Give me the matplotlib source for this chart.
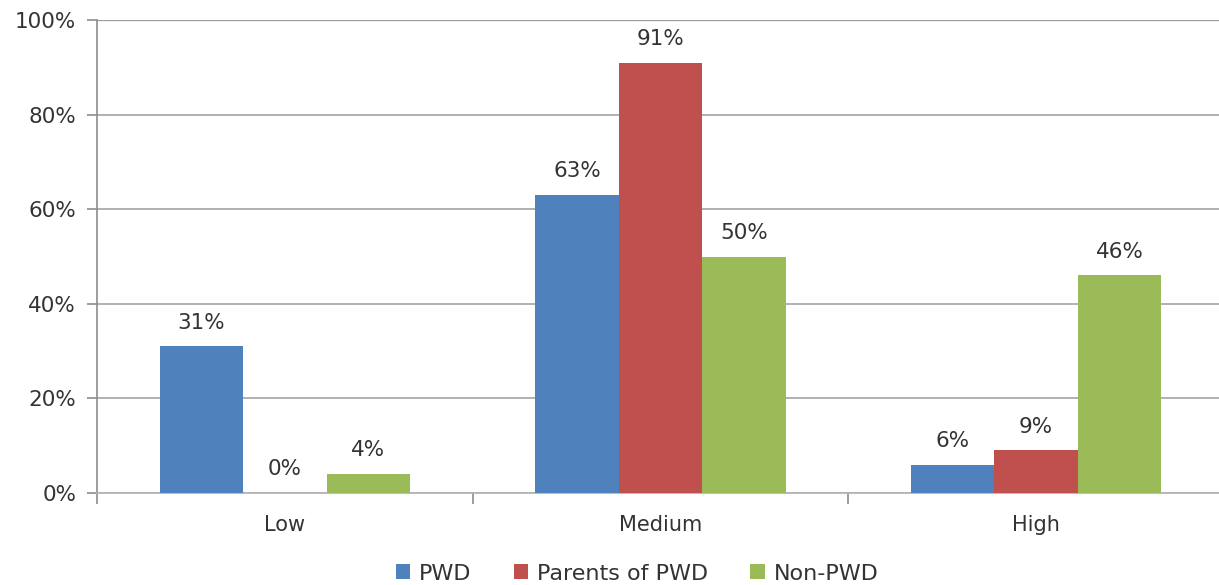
import matplotlib.pyplot as plt
import numpy as np

categories = ["Low", "Medium", "High"]
series = ["PWD", "Parents of PWD", "Non-PWD"]
pwd = [31, 63, 6]
parents = [0, 91, 9]
non_pwd = [4, 50, 46]
colors = ["#4F81BD", "#C0504D", "#9BBB59"]

fig = plt.figure(figsize=(12.19, 5.85), dpi=100)
ax = fig.add_axes([97 / 1219, 92 / 585, 1127 / 1219, 473 / 585])

x = np.arange(len(categories))
w = 0.222
txt = "#333333"
for i, (name, vals) in enumerate(zip(series, [pwd, parents, non_pwd])):
    pos = x + (i - 1) * w
    ax.bar(pos, vals, w, color=colors[i], label=name, zorder=3)
    for p, v in zip(pos, vals):
        ax.text(p, v + 2.9, f"{v}%", ha="center", va="bottom", fontsize=15.5, color=txt)

ax.set_xlim(-0.5, 2.5)
ax.set_ylim(0, 100)
ax.set_yticks(range(0, 101, 20))
ax.set_yticklabels([f"{t}%" for t in range(0, 101, 20)], fontsize=15.5, color=txt)
ax.yaxis.grid(True, color="#a3a3a3", linewidth=1.2, zorder=0)
ax.axhline(100, color="#858585", linewidth=1.6, zorder=1)
ax.set_xticks(x)
ax.set_xticklabels(categories, fontsize=15, color=txt)
ax.set_xticks([-0.5, 0.5, 1.5, 2.5], minor=True)
ax.tick_params(axis="x", which="major", length=0, pad=16)
ax.tick_params(axis="x", which="minor", length=8, color="#8c8c8c", width=1.2)
ax.tick_params(axis="y", length=7, color="#8c8c8c", width=1.2, pad=8)
for s in ["top", "right"]:
    ax.spines[s].set_visible(False)
ax.spines["left"].set_color("#8c8c8c")
ax.spines["left"].set_linewidth(1.2)
ax.spines["bottom"].set_color("#b5b5b5")
ax.spines["bottom"].set_linewidth(1.3)

ax.legend(loc="upper center", bbox_to_anchor=(540 / 1127, -0.107), ncol=3, frameon=False,
          fontsize=16, handlelength=0.65, handleheight=0.65, handletextpad=0.4,
          columnspacing=1.9, labelcolor=txt)

fig.savefig("out.png", dpi=100)
